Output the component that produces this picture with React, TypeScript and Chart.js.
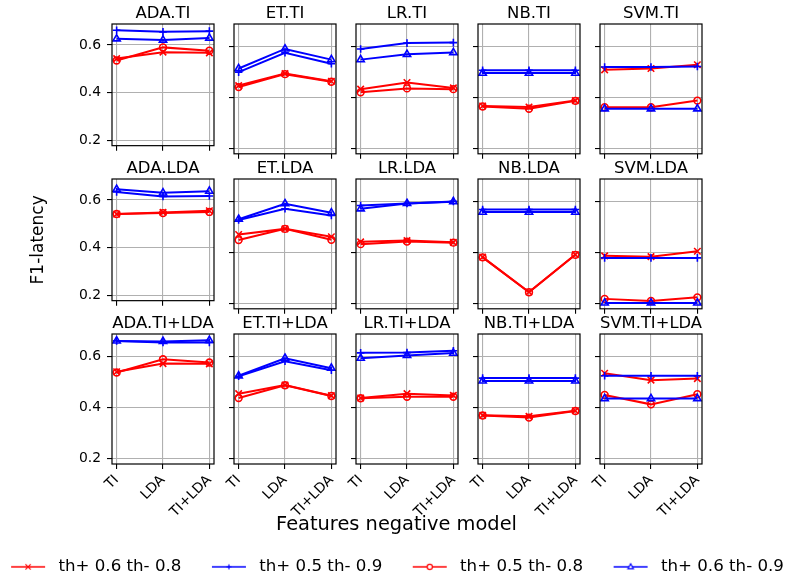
import React, { useEffect, useRef } from 'react';
import { Chart, registerables } from 'chart.js';

Chart.register(...registerables);
Chart.defaults.font.family = "'DejaVu Sans', 'Liberation Sans', sans-serif";
Chart.defaults.color = '#000';

// ---------------- data ----------------
const CATEGORIES = ['TI', 'LDA', 'TI+LDA'];
const MODELS = ['ADA', 'ET', 'LR', 'NB', 'SVM'];
const FEATURES = ['TI', 'LDA', 'TI+LDA'];
const Y_TICKS = [0.2, 0.4, 0.6];
const SERIES_LABELS = ['th+ 0.6 th- 0.8', 'th+ 0.5 th- 0.9', 'th+ 0.5 th- 0.8', 'th+ 0.6 th- 0.9'];
const Y_LABEL = 'F1-latency';
const X_LABEL = 'Features negative model';

// subplot order: row TI (ADA, ET, LR, NB, SVM), row LDA, row TI+LDA
const TH06_08 = [
  [0.543, 0.570, 0.567], [0.446, 0.493, 0.463], [0.432, 0.458, 0.437], [0.366, 0.362, 0.387], [0.508, 0.513, 0.528],
  [0.541, 0.548, 0.555], [0.470, 0.492, 0.461], [0.441, 0.446, 0.439], [0.381, 0.244, 0.391], [0.386, 0.383, 0.404],
  [0.540, 0.572, 0.571], [0.454, 0.488, 0.446], [0.437, 0.454, 0.447], [0.369, 0.365, 0.387], [0.534, 0.507, 0.513],
];
const TH05_09 = [
  [0.662, 0.655, 0.658], [0.499, 0.575, 0.532], [0.590, 0.613, 0.615], [0.506, 0.506, 0.506], [0.519, 0.519, 0.521],
  [0.634, 0.615, 0.617], [0.527, 0.571, 0.545], [0.584, 0.592, 0.600], [0.568, 0.568, 0.568], [0.378, 0.378, 0.378],
  [0.661, 0.655, 0.655], [0.522, 0.581, 0.546], [0.614, 0.615, 0.622], [0.515, 0.515, 0.515], [0.524, 0.524, 0.524],
];
const TH05_08 = [
  [0.535, 0.590, 0.576], [0.440, 0.491, 0.461], [0.420, 0.435, 0.432], [0.364, 0.355, 0.386], [0.361, 0.361, 0.387],
  [0.541, 0.545, 0.550], [0.448, 0.492, 0.449], [0.432, 0.442, 0.438], [0.380, 0.243, 0.390], [0.217, 0.209, 0.223],
  [0.537, 0.589, 0.576], [0.437, 0.487, 0.445], [0.436, 0.442, 0.442], [0.368, 0.360, 0.386], [0.449, 0.412, 0.452],
];
const TH06_09 = [
  [0.626, 0.621, 0.629], [0.513, 0.590, 0.548], [0.548, 0.569, 0.576], [0.495, 0.495, 0.495], [0.355, 0.355, 0.355],
  [0.645, 0.630, 0.637], [0.530, 0.591, 0.555], [0.571, 0.592, 0.599], [0.558, 0.558, 0.558], [0.201, 0.201, 0.201],
  [0.661, 0.659, 0.663], [0.524, 0.593, 0.554], [0.593, 0.604, 0.613], [0.504, 0.504, 0.504], [0.435, 0.435, 0.435],
];
const SERIES_DATA = [TH06_08, TH05_09, TH05_08, TH06_09];

// ---------------- styles / layout ----------------
const SERIES_STYLES = [
  { color: '#ff0000', pointStyle: 'crossRot', radius: 4.6 },
  { color: '#0000ff', pointStyle: 'cross', radius: 3.8 },
  { color: '#ff0000', pointStyle: 'circle', radius: 3.4 },
  { color: '#0000ff', pointStyle: 'triangle', radius: 4.2 },
];
const ROW_TOPS = [24, 179, 334];
const COL_LEFTS = [112, 234, 356, 478, 600];
const BOX_W = 102;
const BOX_H = 130;
const TITLE_H = 22;
const RIGHT_PAD = 12;
const GRID_COLOR = '#b0b0b0';

const framePlugin = {
  id: 'frame',
  afterDraw(chart: any) {
    const { ctx, chartArea: a } = chart;
    ctx.save();
    ctx.strokeStyle = '#000';
    ctx.lineWidth = 1.2;
    ctx.strokeRect(a.left, a.top, a.right - a.left, a.bottom - a.top);
    ctx.restore();
  },
};

function Subplot({ r, c }: { r: number; c: number }) {
  const ref = useRef<HTMLCanvasElement>(null);
  const yW = c === 0 ? COL_LEFTS[0] : 16;
  const xH = r === 2 ? 70 : 6;
  const left = COL_LEFTS[c] - yW;
  const top = ROW_TOPS[r] - TITLE_H;
  const width = yW + BOX_W + RIGHT_PAD;
  const height = TITLE_H + BOX_H + xH;

  useEffect(() => {
    const idx = r * MODELS.length + c;
    const chart = new Chart(ref.current as HTMLCanvasElement, {
      type: 'line',
      data: {
        datasets: SERIES_DATA.map((arr, i) => ({
          label: SERIES_LABELS[i],
          data: arr[idx].map((y, k) => ({ x: k, y })),
          borderColor: SERIES_STYLES[i].color,
          backgroundColor: 'rgba(0,0,0,0)',
          borderWidth: 2,
          pointStyle: SERIES_STYLES[i].pointStyle as any,
          pointRadius: SERIES_STYLES[i].radius,
          pointBorderWidth: 1.6,
          pointBorderColor: SERIES_STYLES[i].color,
          pointBackgroundColor: 'rgba(0,0,0,0)',
          tension: 0,
          order: SERIES_DATA.length - i,
        })),
      },
      options: {
        animation: false,
        responsive: false,
        maintainAspectRatio: false,
        events: [],
        layout: { padding: { left: 0, right: RIGHT_PAD, top: 0, bottom: 0 } },
        plugins: {
          legend: { display: false },
          tooltip: { enabled: false },
          title: {
            display: true,
            text: `${MODELS[c]}.${FEATURES[r]}`,
            fullSize: false,
            color: '#000',
            font: { size: 16.5, weight: 'normal', lineHeight: '20px' } as any,
            padding: { top: 2, bottom: 0 },
          },
        },
        scales: {
          x: {
            type: 'linear',
            min: -0.1,
            max: 2.1,
            afterBuildTicks: (axis: any) => {
              axis.ticks = CATEGORIES.map((_, k) => ({ value: k }));
            },
            afterFit: (axis: any) => {
              axis.height = xH;
            },
            ticks: {
              display: r === 2,
              autoSkip: false,
              minRotation: 45,
              maxRotation: 45,
              padding: 3,
              font: { size: 13.9 },
              color: '#000',
              callback: (v: any) => CATEGORIES[Math.round(Number(v))] ?? '',
            },
            grid: { color: GRID_COLOR, lineWidth: 1.1, tickLength: 5, tickColor: '#000', tickWidth: 1.1 },
            border: { display: false },
          },
          y: {
            type: 'linear',
            min: 0.178,
            max: 0.688,
            afterBuildTicks: (axis: any) => {
              axis.ticks = Y_TICKS.map((v) => ({ value: v }));
            },
            afterFit: (axis: any) => {
              axis.width = yW;
            },
            ticks: {
              display: c === 0,
              padding: 6,
              font: { size: 13.9 },
              color: '#000',
              callback: (v: any) => Number(v).toFixed(1),
            },
            grid: { color: GRID_COLOR, lineWidth: 1.1, tickLength: 5, tickColor: '#000', tickWidth: 1.1 },
            border: { display: false },
            title: {
              display: r === 1 && c === 0,
              text: Y_LABEL,
              color: '#000',
              font: { size: 17, lineHeight: '20px' } as any,
              padding: { top: 29, bottom: 0 },
            },
          },
        },
      },
      plugins: [framePlugin],
    });
    return () => chart.destroy();
  }, []);

  return (
    <canvas
      ref={ref}
      width={width}
      height={height}
      style={{ position: 'absolute', left, top, width, height }}
    />
  );
}

function makeHandle(style: { color: string; pointStyle: string; radius: number }) {
  const cv = document.createElement('canvas');
  cv.width = 42;
  cv.height = 14;
  const g = cv.getContext('2d') as CanvasRenderingContext2D;
  g.strokeStyle = style.color;
  g.lineWidth = 1.5;
  g.beginPath();
  g.moveTo(3, 7);
  g.lineTo(37, 7);
  g.stroke();
  const cx = 20;
  const cy = 7;
  const rr = 2.6;
  g.lineWidth = 1.2;
  g.beginPath();
  if (style.pointStyle === 'crossRot') {
    g.moveTo(cx - rr, cy - rr); g.lineTo(cx + rr, cy + rr);
    g.moveTo(cx + rr, cy - rr); g.lineTo(cx - rr, cy + rr);
    g.stroke();
  } else if (style.pointStyle === 'cross') {
    g.moveTo(cx - rr, cy); g.lineTo(cx + rr, cy);
    g.moveTo(cx, cy - rr); g.lineTo(cx, cy + rr);
    g.stroke();
  } else if (style.pointStyle === 'circle') {
    g.arc(cx, cy, rr, 0, Math.PI * 2);
    g.fillStyle = '#fff';
    g.fill();
    g.stroke();
  } else {
    g.moveTo(cx, cy - rr * 1.2);
    g.lineTo(cx + rr * 1.05, cy + rr * 0.7);
    g.lineTo(cx - rr * 1.05, cy + rr * 0.7);
    g.closePath();
    g.fillStyle = '#fff';
    g.fill();
    g.stroke();
  }
  return cv;
}

function LegendChart() {
  const ref = useRef<HTMLCanvasElement>(null);
  useEffect(() => {
    const handles = SERIES_STYLES.map((s) => makeHandle(s));
    const chart = new Chart(ref.current as HTMLCanvasElement, {
      type: 'line',
      data: { datasets: SERIES_LABELS.map((label) => ({ label, data: [] })) },
      options: {
        animation: false,
        responsive: false,
        maintainAspectRatio: false,
        events: [],
        layout: { padding: 0 },
        scales: { x: { display: false }, y: { display: false } },
        plugins: {
          tooltip: { enabled: false },
          title: { display: false },
          legend: {
            display: true,
            position: 'top',
            labels: {
              usePointStyle: true,
              pointStyleWidth: 42,
              padding: 27.5,
              color: '#000',
              font: { size: 16.67 },
              generateLabels: (ch: any) =>
                ch.data.datasets.map((d: any, i: number) => ({
                  text: d.label,
                  pointStyle: handles[i],
                  fillStyle: 'rgba(0,0,0,0)',
                  strokeStyle: 'rgba(0,0,0,0)',
                  lineWidth: 0,
                  hidden: false,
                  datasetIndex: i,
                  fontColor: '#000',
                })),
            },
          },
        },
      },
    });
    return () => chart.destroy();
  }, []);
  return (
    <canvas
      ref={ref}
      width={880}
      height={140}
      style={{ position: 'absolute', left: -44, top: 531, width: 880, height: 140 }}
    />
  );
}

function XLabelChart() {
  const ref = useRef<HTMLCanvasElement>(null);
  useEffect(() => {
    const chart = new Chart(ref.current as HTMLCanvasElement, {
      type: 'line',
      data: { datasets: [] },
      options: {
        animation: false,
        responsive: false,
        maintainAspectRatio: false,
        events: [],
        scales: { x: { display: false }, y: { display: false } },
        plugins: {
          legend: { display: false },
          tooltip: { enabled: false },
          title: {
            display: true,
            text: X_LABEL,
            color: '#000',
            font: { size: 19.4, weight: 'normal', lineHeight: '24px' } as any,
            padding: { top: 13, bottom: 0 },
          },
        },
      },
    });
    return () => chart.destroy();
  }, []);
  return (
    <canvas
      ref={ref}
      width={401}
      height={60}
      style={{ position: 'absolute', left: 196, top: 500, width: 401, height: 60 }}
    />
  );
}

export default function App() {
  const cells: JSX.Element[] = [];
  for (let r = 0; r < FEATURES.length; r++) {
    for (let c = 0; c < MODELS.length; c++) {
      cells.push(<Subplot key={`${r}-${c}`} r={r} c={c} />);
    }
  }
  return (
    <div
      style={{
        position: 'absolute',
        left: 0,
        top: 0,
        width: 786,
        height: 582,
        overflow: 'hidden',
        background: '#fff',
      }}
    >
      {cells}
      <XLabelChart />
      <LegendChart />
    </div>
  );
}
